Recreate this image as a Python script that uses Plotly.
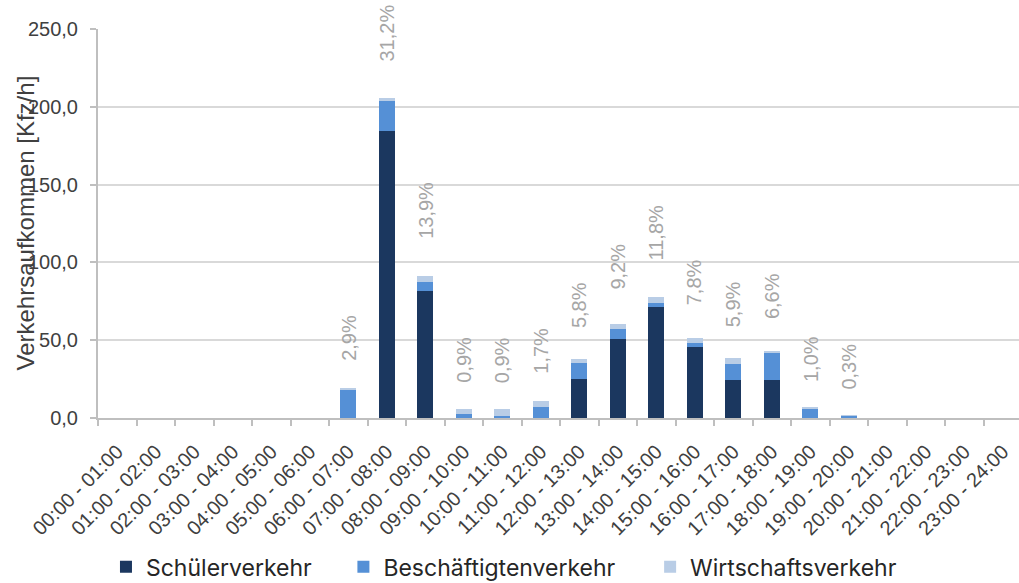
import plotly.graph_objects as go

categories = ["00:00 - 01:00", "01:00 - 02:00", "02:00 - 03:00", "03:00 - 04:00",
              "04:00 - 05:00", "05:00 - 06:00", "06:00 - 07:00", "07:00 - 08:00",
              "08:00 - 09:00", "09:00 - 10:00", "10:00 - 11:00", "11:00 - 12:00",
              "12:00 - 13:00", "13:00 - 14:00", "14:00 - 15:00", "15:00 - 16:00",
              "16:00 - 17:00", "17:00 - 18:00", "18:00 - 19:00", "19:00 - 20:00",
              "20:00 - 21:00", "21:00 - 22:00", "22:00 - 23:00", "23:00 - 24:00"]

schueler = [0, 0, 0, 0, 0, 0, 0, 184.4, 81.8, 0, 0, 0,
            25.0, 50.6, 71.3, 45.5, 24.7, 24.7, 0, 0, 0, 0, 0, 0]
beschaeftigte = [0, 0, 0, 0, 0, 0, 18.6, 19.6, 5.6, 2.3, 1.0, 6.9,
                 10.3, 6.5, 2.6, 2.8, 10.1, 17.2, 6.2, 1.5, 0, 0, 0, 0]
wirtschaft = [0, 0, 0, 0, 0, 0, 0.4, 1.5, 3.8, 3.6, 4.9, 4.3,
              2.9, 3.4, 3.7, 3.0, 3.9, 1.3, 0.4, 0.4, 0, 0, 0, 0]

pct_labels = ["", "", "", "", "", "", "2,9%", "31,2%", "13,9%", "0,9%", "0,9%", "1,7%",
              "5,8%", "9,2%", "11,8%", "7,8%", "5,9%", "6,6%", "1,0%", "0,3%", "", "", "", ""]

y_ticks = [0, 50, 100, 150, 200, 250]

FONT = "Liberation Sans, Arial, sans-serif"
LEGEND_FONT = "Inter, Liberation Sans, sans-serif"

fig = go.Figure()
series = [("Schülerverkehr", schueler, "#1b375f", "legend", 0.104),
          ("Beschäftigtenverkehr", beschaeftigte, "#5590d6", "legend2", 0.337),
          ("Wirtschaftsverkehr", wirtschaft, "#b9cde6", "legend3", 0.638)]
for name, vals, col, leg, _ in series:
    fig.add_trace(go.Bar(x=categories, y=vals, name=name, marker_color=col,
                         marker_line_width=0, legend=leg, hoverinfo="x+y+name"))

totals = [s + b + w for s, b, w in zip(schueler, beschaeftigte, wirtschaft)]
for cat, tot, lab in zip(categories, totals, pct_labels):
    if not lab:
        continue
    fig.add_annotation(x=cat, y=tot, text=lab, textangle=-90, showarrow=False,
                       xanchor="center", yanchor="bottom",
                       yshift=min(35, 23 + 0.15 * tot),
                       font=dict(family=FONT, size=20, color="#a6a6a6"))

fig.add_annotation(xref="paper", yref="paper", x=0, y=0.5, xshift=-73,
                   text="Verkehrsaufkommen [Kfz/h]", textangle=-90, showarrow=False,
                   xanchor="center", yanchor="middle",
                   font=dict(family=FONT, size=24, color="#404040"))

legend_common = dict(orientation="h", xref="container", yref="container",
                     xanchor="left", y=0.028, yanchor="middle",
                     font=dict(family=LEGEND_FONT, size=23, color="#262626"),
                     bgcolor="rgba(0,0,0,0)")
legends = {}
for name, vals, col, leg, lx in series:
    legends[leg] = dict(legend_common, x=lx)

fig.update_layout(
    barmode="stack",
    bargap=0.58,
    width=1019, height=583,
    margin=dict(l=98, r=0, t=29, b=165, autoexpand=False),
    plot_bgcolor="white", paper_bgcolor="white",
    separators=",.",
    font=dict(family=FONT, size=20, color="#404040"),
    showlegend=True,
    **legends,
)
fig.update_xaxes(type="category", range=[-0.5, 23.42], tickangle=-45,
                 tickson="boundaries", ticks="outside", ticklen=6, tickcolor="#bfbfbf",
                 tickwidth=1.5, showline=True, linecolor="#bfbfbf", linewidth=2,
                 showgrid=False, automargin=False, ticklabelstandoff=12,
                 tickfont=dict(family=FONT, size=20, color="#404040"))
fig.update_yaxes(range=[0, 250], tickvals=y_ticks, tickformat=".1f",
                 ticks="outside", ticklen=6, tickcolor="#bfbfbf", tickwidth=1.5,
                 showline=True, linecolor="#bfbfbf", linewidth=2,
                 showgrid=True, gridcolor="#d9d9d9", gridwidth=1.5,
                 zeroline=False, automargin=False, ticklabelstandoff=8,
                 tickfont=dict(family=FONT, size=20, color="#404040"))

fig.write_html("out.html", config={"displayModeBar": False},
               post_script="document.body.style.margin='0';")
